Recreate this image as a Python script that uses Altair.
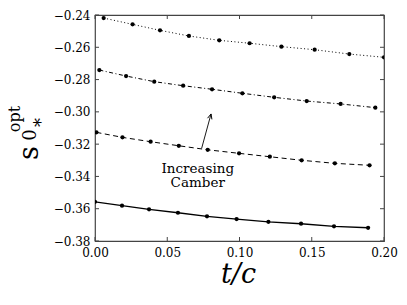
import altair as alt
import pandas as pd

# ---- data ----
t_a = [0.006, 0.026, 0.045, 0.065, 0.086, 0.107, 0.129, 0.152, 0.176, 0.200]
s_a = [-0.2419, -0.2458, -0.2495, -0.2530, -0.2557, -0.2575, -0.2596, -0.2615, -0.2642, -0.2662]

t_b = [0.003, 0.0215, 0.041, 0.061, 0.081, 0.102, 0.124, 0.1465, 0.170, 0.194]
s_b = [-0.2741, -0.2778, -0.2813, -0.2838, -0.2860, -0.2885, -0.2910, -0.2933, -0.2951, -0.2974]

t_c = [0.001, 0.019, 0.0385, 0.058, 0.078, 0.0997, 0.121, 0.143, 0.166, 0.190]
s_c = [-0.3127, -0.3158, -0.3185, -0.3210, -0.3235, -0.3257, -0.3278, -0.3300, -0.3319, -0.3331]

t_d = [0.0, 0.0187, 0.0374, 0.0574, 0.0775, 0.098, 0.120, 0.1426, 0.1654, 0.189]
s_d = [-0.3557, -0.3581, -0.3604, -0.3625, -0.3647, -0.3664, -0.3681, -0.3693, -0.3709, -0.3718]

x_ticks = [0.0, 0.05, 0.10, 0.15, 0.20]
y_ticks = [-0.24, -0.26, -0.28, -0.30, -0.32, -0.34, -0.36, -0.38]

arrow_t = [0.0738, 0.0803]
arrow_s = [-0.3226, -0.3013]
note_lines = ["Increasing", "Camber"]
note_t = [0.0711, 0.0711]
note_s = [-0.3354, -0.3439]

W, H = 289, 226
FONT = "DejaVu Serif"
FRAME = "#444444"

xscale = alt.Scale(domain=[0, 0.2], nice=False, zero=False)
yscale = alt.Scale(domain=[-0.38, -0.24], nice=False, zero=False)

MINUS = "replace(format(datum.value, '.2f'), '-', '\u2212')"
xaxis = alt.Axis(values=x_ticks, format=".2f", labelFont=FONT, labelFontSize=12,
                 labelColor="black", ticks=False, domain=False, grid=False,
                 labelFlush=False, labelOverlap=False,
                 labelPadding=6, title=None)
yaxis = alt.Axis(values=y_ticks, labelExpr=MINUS, labelFont=FONT, labelFontSize=12,
                 labelColor="black", ticks=False, domain=False, grid=False,
                 labelFlush=False, labelOverlap=False,
                 labelPadding=5, title="s", titleFont=FONT, titleFontSize=27,
                 titleFontWeight="normal", titleColor="black", titleAngle=270,
                 titleAlign="center", titleBaseline="alphabetic",
                 titleX=-58, titleY=137.5)


def X(f):
    return alt.X(f, scale=xscale, axis=xaxis)


def Y(f):
    return alt.Y(f, scale=yscale, axis=yaxis)


layers = []
styles = [
    (t_a, s_a, [1, 2.5], 1.0),
    (t_b, s_b, [4, 2.5, 1, 2.5], 1.0),
    (t_c, s_c, [5, 3.5], 1.0),
    (t_d, s_d, None, 1.3),
]
for ts, ss, dash, lw in styles:
    d = pd.DataFrame({"t": ts, "s": ss})
    kw = dict(color="black", strokeWidth=lw, clip=True)
    if dash is not None:
        kw["strokeDash"] = dash
    layers.append(alt.Chart(d).mark_line(**kw).encode(x=X("t:Q"), y=Y("s:Q")))
    layers.append(alt.Chart(d).mark_circle(size=18, color="black", opacity=1, clip=True).encode(
        x=X("t:Q"), y=Y("s:Q")))

# inward ticks on all four sides
ydf = pd.DataFrame({"v": y_ticks})
xdf = pd.DataFrame({"v": x_ticks})
tick_kw = dict(color=FRAME, strokeWidth=1)
layers.append(alt.Chart(ydf).mark_rule(**tick_kw).encode(
    y=Y("v:Q"), x=alt.value(0), x2=alt.value(4)))
layers.append(alt.Chart(ydf).mark_rule(**tick_kw).encode(
    y=Y("v:Q"), x=alt.value(W - 4), x2=alt.value(W)))
layers.append(alt.Chart(xdf).mark_rule(**tick_kw).encode(
    x=X("v:Q"), y=alt.value(H - 4), y2=alt.value(H)))
layers.append(alt.Chart(xdf).mark_rule(**tick_kw).encode(
    x=X("v:Q"), y=alt.value(0), y2=alt.value(4)))

# annotation arrow
adf = pd.DataFrame({"t": arrow_t, "s": arrow_s})
layers.append(alt.Chart(adf).mark_line(color="black", strokeWidth=0.9).encode(
    x=X("t:Q"), y=Y("s:Q")))
hdf = pd.DataFrame({"t": arrow_t[1:], "s": arrow_s[1:]})
layers.append(alt.Chart(hdf).mark_point(
    shape="M-0.45,1L0,0L0.45,1", size=100, filled=False, color="black",
    strokeWidth=0.9, angle=15, opacity=1).encode(x=X("t:Q"), y=Y("s:Q")))

ndf = pd.DataFrame({"t": note_t, "s": note_s, "txt": note_lines})
layers.append(alt.Chart(ndf).mark_text(font=FONT, fontSize=13.5, color="black",
                                       align="center", baseline="middle").encode(
    x=X("t:Q"), y=Y("s:Q"), text="txt:N"))

# x title
layers.append(alt.Chart(pd.DataFrame({"a": [0]})).mark_text(
    text="t/c", font=FONT, fontStyle="italic", fontSize=27, color="black",
    align="center", baseline="alphabetic").encode(x=alt.value(W / 2 - 1), y=alt.value(268)))

# rest of the y title (sub/superscripts)
ytitle_txt = ["0", "*", "opt"]
ytitle_fs = [18, 18, 16]
ytitle_px = [-59, -48, -75]
ytitle_py = [120, 107.5, 104]
for txt, fs, px, py in zip(ytitle_txt, ytitle_fs, ytitle_px, ytitle_py):
    layers.append(alt.Chart(pd.DataFrame({"a": [0]})).mark_text(
        text=txt, font=FONT, fontSize=fs, color="black", angle=270,
        align="center", baseline="alphabetic").encode(
        x=alt.value(px), y=alt.value(py)))

chart = alt.layer(*layers).properties(
    width=W, height=H,
    autosize=alt.AutoSizeParams(type="none"),
    padding={"left": 87, "top": 7, "right": 15, "bottom": 56},
).configure_view(stroke=FRAME, strokeWidth=1.2)

chart.save("out.html", embed_options={"renderer": "svg", "actions": False})
